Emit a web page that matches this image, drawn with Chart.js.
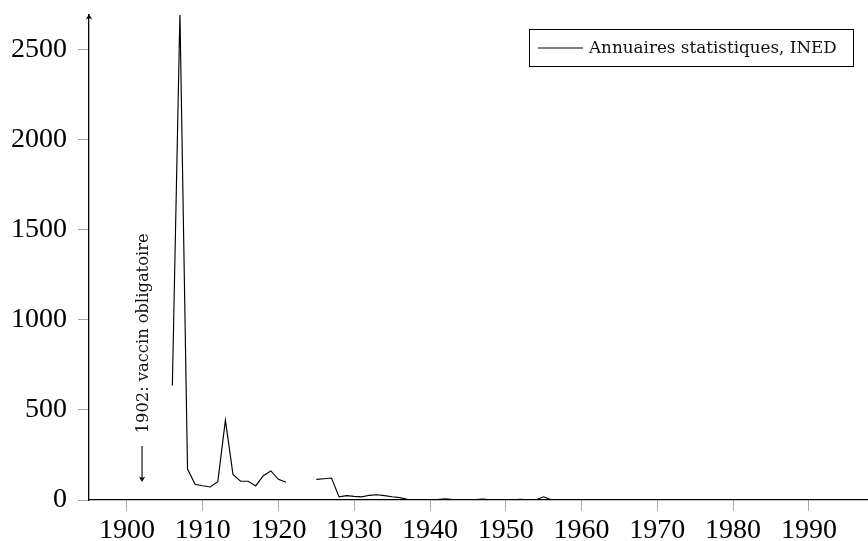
<!DOCTYPE html>
<html>
<head>
<meta charset="utf-8">
<script src="https://cdn.jsdelivr.net/npm/chart.js@4.4.1/dist/chart.umd.min.js"></script>
<style>
  html, body { margin: 0; padding: 0; background: #fff; }
  #wrap { width: 868px; height: 541px; }
</style>
</head>
<body>
<div id="wrap"><canvas id="c" width="868" height="541"></canvas></div>
<script>
// ---- data ----
const years = [1906,1907,1908,1909,1910,1911,1912,1913,1914,1915,1916,1917,1918,1919,1920,1921,1922,1923,1924,
  1925,1926,1927,1928,1929,1930,1931,1932,1933,1934,1935,1936,1937,1938,1939,1940,1941,1942,1943,1944,1945,
  1946,1947,1948,1949,1950,1951,1952,1953,1954,1955,1956,1957,1958,1959,1960,1961,1962,1963,1964,1965,
  1966,1967,1968,1969,1970,1971,1972,1973,1974,1975,1976,1977,1978,1979,1980,1981,1982,1983,1984,1985,
  1986,1987,1988,1989,1990,1991,1992,1993,1994,1995,1996,1997,1998];
const cases = [635,2700,172,87,79,72,102,443,142,105,104,78,135,161,115,98,null,null,null,
  114,118,122,17,24,20,17,26,29,24,18,13,4,1,2,1,2,6,3,2,3,
  2,5,1,1,1,1,4,1,1,18,1,0,0,0,0,0,0,0,0,0,
  0,0,0,0,0,0,0,1,0,0,1,0,0,0,0,0,0,0,0,0,
  0,0,0,0,0,0,0,0,0,0,0,0,0];
const seriesLabel = 'Annuaires statistiques, INED';
const xTickValues = [1900,1910,1920,1930,1940,1950,1960,1970,1980,1990];
const yTickValues = [0,500,1000,1500,2000,2500];
const annotationYear = 1902;
const annotationText = '1902: vaccin obligatoire';

const FONT = '"Liberation Serif", "DejaVu Serif", serif';
const SMALLFONT = '"DejaVu Serif", "Liberation Serif", serif';

const points = years.map((y, i) => ({ x: y, y: cases[i] }));

const decorPlugin = {
  id: 'decor',
  afterDraw(chart) {
    const ctx = chart.ctx;
    const xs = chart.scales.x, ys = chart.scales.y;
    const area = chart.chartArea;
    ctx.save();
    // y-axis arrow head
    const ax = area.left, ay = area.top - 1;
    ctx.fillStyle = '#000';
    ctx.beginPath();
    ctx.moveTo(ax, ay);
    ctx.lineTo(ax - 3.2, ay + 5.5);
    ctx.lineTo(ax, ay + 4);
    ctx.lineTo(ax + 3.2, ay + 5.5);
    ctx.closePath();
    ctx.fill();

    // annotation arrow
    const px = xs.getPixelForValue(annotationYear);
    const y1 = ys.getPixelForValue(300), y2 = ys.getPixelForValue(100);
    ctx.strokeStyle = '#000';
    ctx.lineWidth = 1.1;
    ctx.beginPath();
    ctx.moveTo(px, y1);
    ctx.lineTo(px, y2 - 4);
    ctx.stroke();
    ctx.beginPath();
    ctx.moveTo(px, y2);
    ctx.lineTo(px - 3.2, y2 - 5.5);
    ctx.lineTo(px, y2 - 4);
    ctx.lineTo(px + 3.2, y2 - 5.5);
    ctx.closePath();
    ctx.fill();

    // annotation text (rotated)
    ctx.save();
    ctx.translate(px + 6, ys.getPixelForValue(370));
    ctx.rotate(-Math.PI / 2);
    ctx.font = '16.3px ' + SMALLFONT;
    ctx.textAlign = 'left';
    ctx.textBaseline = 'alphabetic';
    ctx.fillStyle = '#111';
    ctx.fillText(annotationText, 0, 0);
    ctx.restore();

    // legend box
    const W = chart.width;
    const bx = 529.5, by = 29.5, bw = (W - 15) - 529, bh = 37;
    ctx.fillStyle = '#fff';
    ctx.fillRect(bx, by, bw, bh);
    ctx.strokeStyle = '#000';
    ctx.lineWidth = 1;
    ctx.strokeRect(bx, by, bw, bh);
    ctx.lineWidth = 1.2;
    ctx.beginPath();
    ctx.moveTo(538, 48);
    ctx.lineTo(583, 48);
    ctx.stroke();
    ctx.font = '16.8px ' + SMALLFONT;
    ctx.fillStyle = '#111';
    ctx.textBaseline = 'alphabetic';
    ctx.fillText(chart.data.datasets[0].label, 589, 52.5);
    ctx.restore();
  }
};

new Chart(document.getElementById('c'), {
  type: 'line',
  data: {
    datasets: [{
      label: seriesLabel,
      data: points,
      borderColor: '#000',
      borderWidth: 1.15,
      pointRadius: 0,
      tension: 0,
      spanGaps: false,
      fill: false
    }]
  },
  options: {
    responsive: false,
    animation: false,
    layout: { padding: { top: 15, left: 0, right: 0, bottom: 0 } },
    plugins: { legend: { display: false }, tooltip: { enabled: false } },
    scales: {
      x: {
        type: 'linear',
        min: 1895,
        max: 1997.8,
        afterFit: s => { s.height = 41; s.paddingLeft = 0; s.paddingRight = 0; },
        afterBuildTicks: s => { s.ticks = xTickValues.map(v => ({ value: v })); },
        grid: { drawOnChartArea: false, drawTicks: true, tickLength: 11, color: '#a8a8a8', lineWidth: 1 },
        border: { color: '#000', width: 1.3 },
        ticks: { font: { family: FONT, size: 28 }, color: '#000', padding: 3, maxRotation: 0, autoSkip: false,
                 callback: v => String(v) }
      },
      y: {
        type: 'linear',
        min: 0,
        max: 2690,
        afterFit: s => { s.width = 89; s.paddingTop = 0; s.paddingBottom = 0; },
        afterBuildTicks: s => { s.ticks = yTickValues.map(v => ({ value: v })); },
        grid: { drawOnChartArea: false, drawTicks: true, tickLength: 11, color: '#a8a8a8', lineWidth: 1 },
        border: { color: '#000', width: 1.3 },
        ticks: { font: { family: FONT, size: 28 }, color: '#000', padding: 11, autoSkip: false,
                 callback: v => String(v) }
      }
    }
  },
  plugins: [decorPlugin]
});
</script>
</body>
</html>
